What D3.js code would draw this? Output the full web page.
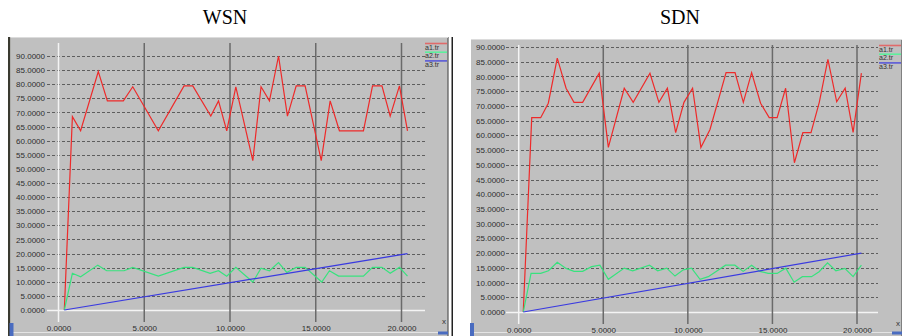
<!DOCTYPE html>
<html>
<head>
<meta charset="utf-8">
<script src="https://cdn.jsdelivr.net/npm/d3@7"></script>
<style>
  html, body { margin: 0; padding: 0; background: #ffffff; }
  svg { display: block; }
</style>
</head>
<body>
<svg id="chart" width="902" height="336"></svg>
<script>
// Throughput traces (time in s, value) for the two network set-ups
const wsnA1 = [[0.34,0],[0.81,68.5],[1.29,63.5],[2.32,84.5],[2.85,74.1],[3.78,74.1],[4.33,79.1],[5.82,63.5],[7.32,79.4],[7.83,79.4],[8.88,68.7],[9.33,74.1],[9.81,63.5],[10.34,79.1],[11.33,52.9],[11.81,79.1],[12.3,74.1],[12.83,90.0],[13.35,68.7],[13.86,79.4],[14.38,79.4],[15.32,52.9],[15.84,74.1],[16.38,63.5],[17.78,63.5],[18.31,79.4],[18.86,79.4],[19.34,68.7],[19.88,79.4],[20.35,63.5]];
const wsnA2 = [[0.34,0],[0.81,13.0],[1.29,11.8],[2.29,15.9],[2.81,13.9],[3.82,13.9],[4.33,15.1],[5.82,12.0],[7.32,15.1],[7.83,15.1],[8.84,13.0],[9.33,13.9],[9.81,12.0],[10.34,15.1],[11.33,9.9],[11.81,14.8],[12.3,13.9],[12.83,16.8],[13.31,13.3],[13.86,15.1],[14.38,15.1],[15.35,9.9],[15.8,13.9],[16.33,12.0],[17.78,12.0],[18.31,15.1],[18.86,15.1],[19.34,13.0],[19.88,15.1],[20.35,12.0]];
const wsnA3 = [[0.34,0],[20.35,20.0]];

const sdnA1 = [[0.27,0],[0.77,66.0],[1.30,66.0],[1.75,70.9],[2.28,86.2],[2.80,76.0],[3.27,71.2],[3.78,71.2],[4.76,81.1],[5.30,55.9],[6.24,76.0],[6.77,71.2],[7.76,81.1],[8.29,71.2],[8.79,76.0],[9.28,60.9],[9.77,71.2],[10.28,76.0],[10.77,55.9],[11.31,62.0],[12.26,81.3],[12.79,81.3],[13.28,71.2],[13.77,81.3],[14.30,70.9],[14.81,66.0],[15.28,66.0],[15.78,76.0],[16.30,50.7],[16.80,60.9],[17.28,60.9],[17.77,71.2],[18.28,85.8],[18.80,71.4],[19.30,76.0],[19.77,61.0],[20.26,81.1]];
const sdnA2 = [[0.27,0],[0.73,13.1],[1.30,13.1],[1.76,14.0],[2.28,16.9],[2.80,14.8],[3.27,13.8],[3.78,13.8],[4.31,15.4],[4.80,15.9],[5.30,11.1],[6.24,14.9],[6.74,14.0],[7.73,15.9],[8.22,14.0],[8.75,14.9],[9.24,12.2],[9.73,14.3],[10.22,14.9],[10.72,11.1],[11.21,12.0],[12.23,15.9],[12.78,15.9],[13.27,13.8],[13.77,15.9],[14.26,13.8],[14.75,13.1],[15.28,13.1],[15.79,14.9],[16.28,10.1],[16.77,12.0],[17.31,12.0],[17.76,13.7],[18.26,16.7],[18.75,14.0],[19.28,14.8],[19.77,12.0],[20.26,15.9]];
const sdnA3 = [[0.27,0],[20.26,20.0]];

const xTickValues = [0, 5, 10, 15, 20];
const yTickValues = [0, 5, 10, 15, 20, 25, 30, 35, 40, 45, 50, 55, 60, 65, 70, 75, 80, 85, 90];
const seriesNames = ["a1.tr", "a2.tr", "a3.tr"];
const chartTitles = ["WSN", "SDN"];

const lineColors = ["#ee2a2a", "#38e27e", "#3a3ae0"];
const legendColors = ["#e06a6a", "#5cf09c", "#5a5ad8"];
const fmt = d3.format(".4f");

const svg = d3.select("#chart");

// Outer frame pieces between and around the two panels
svg.append("rect").attr("x", 8).attr("y", 37).attr("width", 2.5).attr("height", 299).attr("fill", "#3a3a30");
svg.append("rect").attr("x", 451.5).attr("y", 37).attr("width", 1.5).attr("height", 299).attr("fill", "#222");

function drawPanel(opts, series, title) {
  const g = svg.append("g");

  // panel background
  g.append("rect")
    .attr("x", opts.left).attr("y", opts.top)
    .attr("width", opts.right - opts.left).attr("height", 336 - opts.top)
    .attr("fill", "#c0c0c0");
  g.append("line")
    .attr("x1", opts.right).attr("x2", opts.right)
    .attr("y1", opts.top).attr("y2", 336)
    .attr("stroke", "#555").attr("stroke-width", 1.2);
  g.append("line")
    .attr("x1", opts.left).attr("x2", opts.right)
    .attr("y1", opts.top + 0.5).attr("y2", opts.top + 0.5)
    .attr("stroke", "#dcdcdc").attr("stroke-width", 1);
  g.append("line")
    .attr("x1", opts.left).attr("x2", opts.right)
    .attr("y1", 332.5).attr("y2", 332.5)
    .attr("stroke", "#e4e4e4").attr("stroke-width", 1);

  // title
  svg.append("text")
    .attr("x", opts.titleX).attr("y", 24)
    .attr("text-anchor", "middle")
    .attr("font-family", "Liberation Serif, Times New Roman, serif")
    .attr("font-size", 20)
    .attr("fill", "#000")
    .text(title);

  const x = d3.scaleLinear().domain([0, 20]).range([opts.x0, opts.x20]);
  const y = d3.scaleLinear().domain([0, 90]).range([opts.y0, opts.y90]);

  // horizontal grid (dashed), zero line in white
  const hg = g.append("g");
  hg.selectAll("line").data(yTickValues).join("line")
    .attr("x1", opts.gridLeft).attr("x2", opts.gridRight)
    .attr("y1", d => Math.round(y(d)) + 0.5).attr("y2", d => Math.round(y(d)) + 0.5)
    .attr("stroke", d => d === 0 ? "#f4f4f4" : "#5e5e5e")
    .attr("stroke-width", d => d === 0 ? 1.5 : 1)
    .attr("stroke-dasharray", d => d === 0 ? null : "3,2");

  // vertical grid (solid), zero line in white
  const vg = g.append("g");
  vg.selectAll("line").data(xTickValues).join("line")
    .attr("x1", d => x(d)).attr("x2", d => x(d))
    .attr("y1", opts.vTop).attr("y2", opts.vBottom)
    .attr("stroke", d => d === 0 ? "#f4f4f4" : "#6a6a6a")
    .attr("stroke-width", 1.5);

  // y-axis labels
  const yAxis = d3.axisLeft(y).tickValues(yTickValues).tickFormat(fmt).tickSize(0).tickPadding(0);
  const ya = g.append("g").attr("transform", `translate(${opts.labelRight},0)`).call(yAxis);
  ya.select(".domain").remove();
  ya.selectAll("text")
    .attr("font-family", "Liberation Sans, Arial, sans-serif")
    .attr("font-size", 8).attr("fill", "#2e2e2e").attr("dy", "0.32em");

  // x-axis labels
  const xAxis = d3.axisBottom(x).tickValues(xTickValues).tickFormat(fmt).tickSize(0).tickPadding(0);
  const xa = g.append("g").attr("transform", `translate(0,${opts.xLabelY})`).call(xAxis);
  xa.select(".domain").remove();
  xa.selectAll("text")
    .attr("font-family", "Liberation Sans, Arial, sans-serif")
    .attr("font-size", 8).attr("fill", "#2e2e2e").attr("dy", 0);

  // axis name and scroll marker at the corner
  g.append("text")
    .attr("x", opts.right - 4).attr("y", opts.xMarkY)
    .attr("text-anchor", "middle")
    .attr("font-family", "Liberation Sans, Arial, sans-serif")
    .attr("font-size", 8).attr("fill", "#333").text("x");
  g.append("rect")
    .attr("x", opts.right - 10).attr("y", 331.5).attr("width", 10).attr("height", 3)
    .attr("fill", "#4a6cc0");
  g.append("rect")
    .attr("x", opts.left - 1).attr("y", 323).attr("width", 4).attr("height", 13)
    .attr("fill", "#4a6cc0");

  // traces
  const line = d3.line().x(d => x(d[0])).y(d => y(d[1]));
  g.append("g").selectAll("path").data(series).join("path")
    .attr("d", d => line(d))
    .attr("fill", "none")
    .attr("stroke", (d, i) => lineColors[i])
    .attr("stroke-width", 1.2)
    .attr("stroke-linejoin", "miter");

  // legend
  const lg = g.append("g");
  seriesNames.forEach((name, i) => {
    const ly = opts.legendTop + i * 8.7;
    lg.append("line")
      .attr("x1", opts.legendX).attr("x2", opts.right - 1)
      .attr("y1", ly).attr("y2", ly)
      .attr("stroke", legendColors[i]).attr("stroke-width", 1.6);
    lg.append("text")
      .attr("x", opts.legendX).attr("y", ly + 6)
      .attr("font-family", "Liberation Sans, Arial, sans-serif")
      .attr("font-size", 7).attr("fill", "#333").text(name);
  });
}

drawPanel({
  left: 10.5, right: 448, top: 37, titleX: 225,
  x0: 58.5, x20: 401.5, y0: 310, y90: 56,
  gridLeft: 47, gridRight: 425, vTop: 43, vBottom: 322,
  labelRight: 45, xLabelY: 331, xMarkY: 324,
  legendX: 425, legendTop: 43.5
}, [wsnA1, wsnA2, wsnA3], chartTitles[0]);

drawPanel({
  left: 471, right: 902, top: 39, titleX: 680,
  x0: 518.7, x20: 857, y0: 312, y90: 47,
  gridLeft: 506, gridRight: 878, vTop: 45, vBottom: 324,
  labelRight: 505, xLabelY: 333, xMarkY: 326,
  legendX: 879, legendTop: 45.5
}, [sdnA1, sdnA2, sdnA3], chartTitles[1]);
</script>
</body>
</html>
